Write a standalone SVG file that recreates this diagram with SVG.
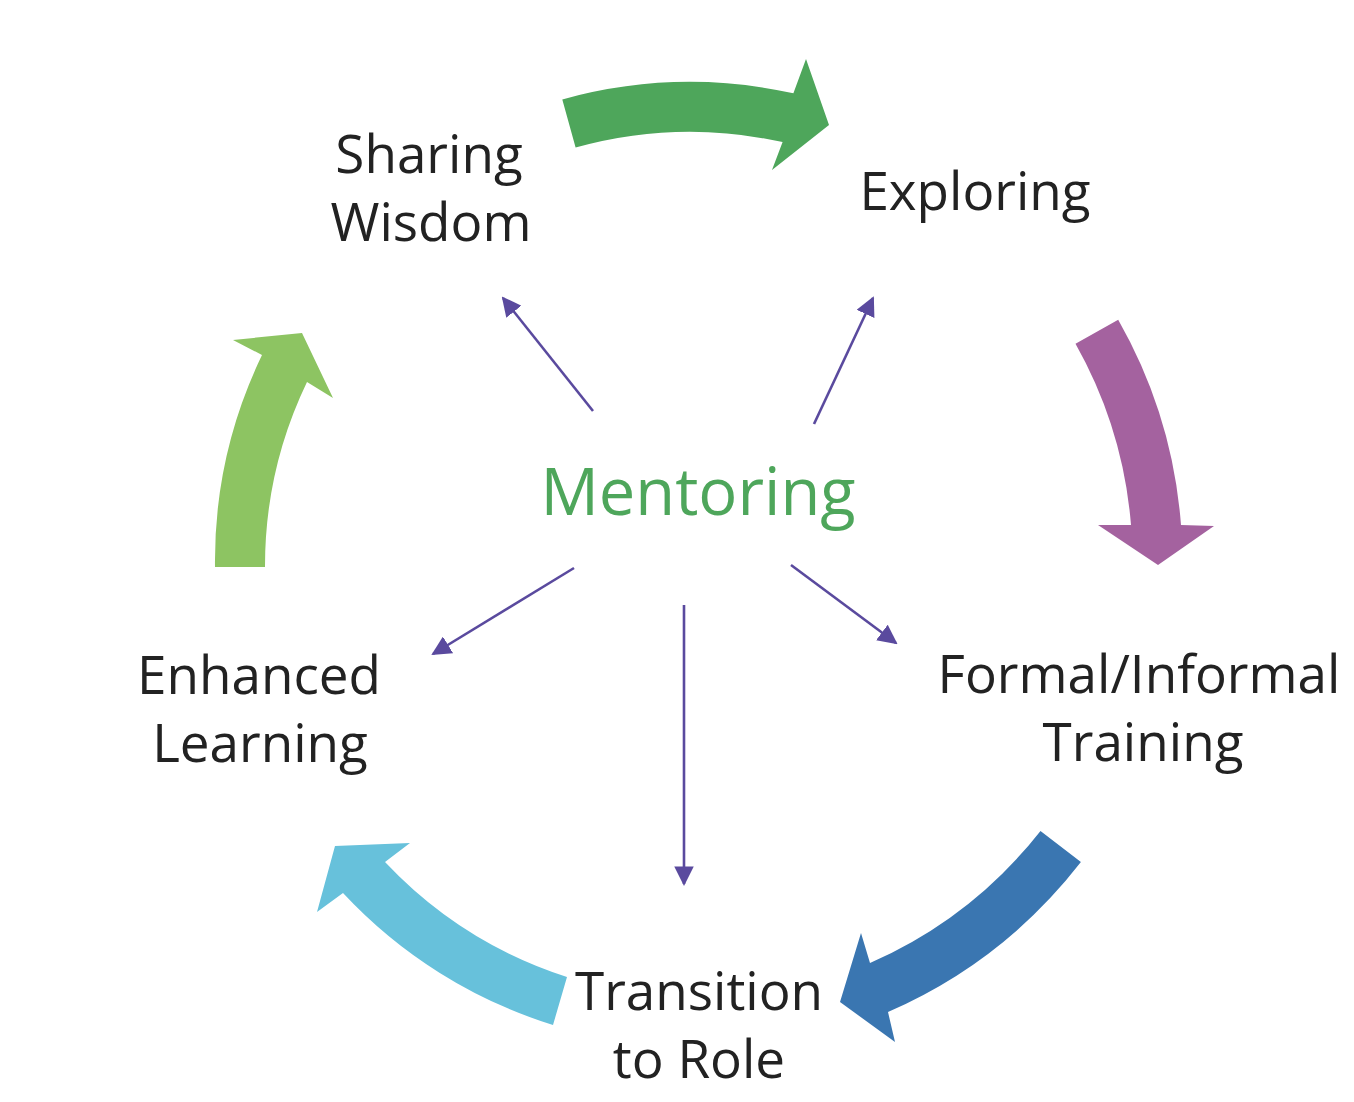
<svg xmlns="http://www.w3.org/2000/svg" width="1354" height="1102" viewBox="0 0 1354 1102">
<style>
.lbl{font-family:"Open Sans","Noto Sans","Liberation Sans",sans-serif;font-size:53px;fill:#222222;text-anchor:middle}
.ctr{font-family:"Open Sans","Noto Sans","Liberation Sans",sans-serif;font-size:65px;fill:#4EA65B;text-anchor:middle}
.ray{stroke:#5A4A9E;stroke-width:2.6;fill:none;marker-end:url(#ah)}
</style>
<defs>
<marker id="ah" viewBox="0 0 10 10" refX="9" refY="5" markerWidth="7.5" markerHeight="7.5" markerUnits="strokeWidth" orient="auto">
<path d="M0,0 L10,5 L0,10 Z" fill="#5A4A9E"/>
</marker>
</defs>
<rect width="1354" height="1102" fill="#ffffff"/>
<g id="cycle-arrows">
<path id="arrow-green" d="M562.3,99.4 A478,478 0 0 1 793.4,93.3 L806,59 L829,125 L772,170 L782.6,142.1 A428,428 0 0 0 575.6,147.6 Z" fill="#4EA65B"/>
<path id="arrow-purple" d="M1075.5,343.7 L1118.2,319.7 A491,491 0 0 1 1181,525 L1214,526 L1158,565 L1098,525 L1131,525 A442,442 0 0 0 1075.5,343.7 Z" fill="#A4629F"/>
<path id="arrow-blue" d="M1040.5,830.9 L1080.9,862.1 A494,494 0 0 1 888,1012 L895,1042 L840,1002 L861,933 L870,963 A443,443 0 0 0 1040.5,830.9 Z" fill="#3A76B1"/>
<path id="arrow-cyan" d="M553,1025 L567,977 A432,432 0 0 1 385,862 L410,843 L335,846 L317,912 L343,893 A483,483 0 0 0 553,1025 Z" fill="#67C1DB"/>
<path id="arrow-lightgreen" d="M215,567 L265,567 A425,425 0 0 1 307,382 L333,398 L302,333 L233,340 L262,355 A475,475 0 0 0 215,567 Z" fill="#8DC462"/>
</g>
<g id="connectors">
<line class="ray" x1="593" y1="411" x2="503" y2="298"/>
<line class="ray" x1="814" y1="424" x2="873" y2="298"/>
<line class="ray" x1="574" y1="568" x2="433" y2="654"/>
<line class="ray" x1="791" y1="565" x2="896" y2="643"/>
<line class="ray" x1="684" y1="605" x2="684" y2="884"/>
</g>
<g id="node-mentoring"><text class="ctr" x="698" y="515">Mentoring</text></g>
<g id="node-sharing"><text class="lbl" x="429" y="173">Sharing</text><text class="lbl" x="431" y="241">Wisdom</text></g>
<g id="node-exploring"><text class="lbl" x="975" y="210">Exploring</text></g>
<g id="node-training"><text class="lbl" x="1139" y="693">Formal/Informal</text><text class="lbl" x="1143" y="761">Training</text></g>
<g id="node-transition"><text class="lbl" x="699" y="1010">Transition</text><text class="lbl" x="699" y="1078">to Role</text></g>
<g id="node-enhanced"><text class="lbl" x="259" y="694">Enhanced</text><text class="lbl" x="260" y="762">Learning</text></g>
</svg>
